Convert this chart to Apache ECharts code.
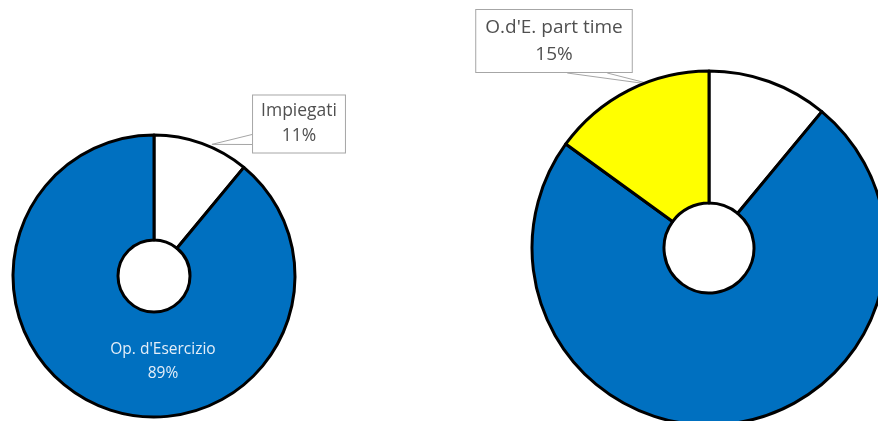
<!DOCTYPE html>
<html>
<head>
<meta charset="utf-8">
<style>
  html, body { margin: 0; padding: 0; background: #ffffff; }
  #chart { width: 878px; height: 421px; }
</style>
<script src="https://cdn.jsdelivr.net/npm/echarts@6/dist/echarts.min.js"></script>
</head>
<body>
<div id="chart"></div>
<script>
// Staff composition: office staff vs operating staff (full time / part time)
const leftNames = ['Impiegati', "Op. d'Esercizio"];
const leftValues = [11, 89];

const rightNames = ['Impiegati', "Op. d'Esercizio", "O.d'E. part time"];
const rightValues = [11, 74, 15];

const sliceColors = {
  'Impiegati': '#FFFFFF',
  "Op. d'Esercizio": '#0070C0',
  "O.d'E. part time": '#FFFF00'
};

const FONT = '"Open Sans", "Noto Sans", sans-serif';

// Ring geometry
const rings = [
  { center: [154, 276], radius: [36, 141] },
  { center: [709, 248], radius: [45, 177] }
];

// Callout box style for labels drawn outside the ring
const calloutLabel = {
  show: true,
  position: 'outside',
  formatter: '{b}\n{d}%',
  backgroundColor: '#FFFFFF',
  borderColor: '#A6A6A6',
  borderWidth: 1,
  color: '#505050',
  fontFamily: FONT,
  align: 'center'
};
const calloutLine = {
  show: true,
  length: 10,
  length2: 10,
  lineStyle: { color: '#A6A6A6', width: 1 }
};

function buildData(names, values, labelled) {
  return names.map((n, i) => {
    const item = {
      name: n,
      value: values[i],
      itemStyle: { color: sliceColors[n] },
      label: { show: false },
      labelLine: { show: false }
    };
    if (labelled[n]) {
      item.label = Object.assign({}, labelled[n].label);
      item.labelLine = labelled[n].labelLine || { show: false };
    }
    return item;
  });
}

const leftData = buildData(leftNames, leftValues, {
  'Impiegati': {
    label: Object.assign({}, calloutLabel, { fontSize: 17.5, lineHeight: 25, padding: [4, 8, 3, 8] }),
    labelLine: calloutLine
  },
  "Op. d'Esercizio": {
    label: {
      show: true,
      position: 'inside',
      formatter: '{b}\n{d}%',
      color: '#E4EEF8',
      fontFamily: FONT,
      fontSize: 15.5,
      lineHeight: 24,
      align: 'center'
    }
  }
});

const rightData = buildData(rightNames, rightValues, {
  "O.d'E. part time": {
    label: Object.assign({}, calloutLabel, { fontSize: 19, lineHeight: 27, padding: [4, 9, 4, 9] }),
    labelLine: calloutLine
  }
});

// Label placement: centre of the label, where along its slice the callout
// points (0 = slice start, 1 = slice end), how far out from the centre relative
// to the outer radius, and which box edge the wedge leaves from
const labelSpots = {
  '0-0': { at: [299, 124], along: 0.6, reach: 1.02, edge: 'left', from: [-19, -9] },
  '0-1': { at: [163, 362] },
  '1-2': { at: [554, 41], along: 0.65, reach: 0.975, edge: 'bottom', from: [92, 132] }
};

// Point near a ring's outer edge, part way through a slice
function arcPoint(seriesIndex, values, dataIndex, along, reach) {
  const total = values.reduce((a, b) => a + b, 0);
  let before = 0;
  for (let i = 0; i < dataIndex; i++) before += values[i];
  const frac = (before + along * values[dataIndex]) / total;
  const ang = frac * Math.PI * 2;
  const g = rings[seriesIndex];
  const r = g.radius[1] * reach;
  return [g.center[0] + r * Math.sin(ang), g.center[1] - r * Math.cos(ang)];
}

function makeLayout(seriesIndex, values) {
  return function (p) {
    const s = labelSpots[seriesIndex + '-' + p.dataIndex];
    if (!s) return {};
    const out = { x: s.at[0], y: s.at[1], align: 'center', verticalAlign: 'middle' };
    if (s.edge) {
      const w = p.labelRect.width, h = p.labelRect.height;
      const left = s.at[0] - w / 2, bottom = s.at[1] + h / 2;
      const tip = arcPoint(seriesIndex, values, p.dataIndex, s.along, s.reach);
      let a, b;
      if (s.edge === 'left') {
        a = [left, bottom + s.from[0]];
        b = [left, bottom + s.from[1]];
      } else {
        a = [left + s.from[0], bottom];
        b = [left + s.from[1], bottom];
      }
      out.labelLinePoints = [a, tip, b];
    }
    return out;
  };
}

const ringStyle = { borderColor: '#000000', borderWidth: 3 };

const chart = echarts.init(document.getElementById('chart'), null, { renderer: 'canvas' });
chart.setOption({
  animation: false,
  backgroundColor: '#FFFFFF',
  series: [
    {
      type: 'pie',
      center: rings[0].center,
      radius: rings[0].radius,
      startAngle: 90,
      clockwise: true,
      silent: true,
      itemStyle: ringStyle,
      labelLayout: makeLayout(0, leftValues),
      data: leftData
    },
    {
      type: 'pie',
      center: rings[1].center,
      radius: rings[1].radius,
      startAngle: 90,
      clockwise: true,
      silent: true,
      itemStyle: ringStyle,
      labelLayout: makeLayout(1, rightValues),
      data: rightData
    }
  ]
});
</script>
</body>
</html>
